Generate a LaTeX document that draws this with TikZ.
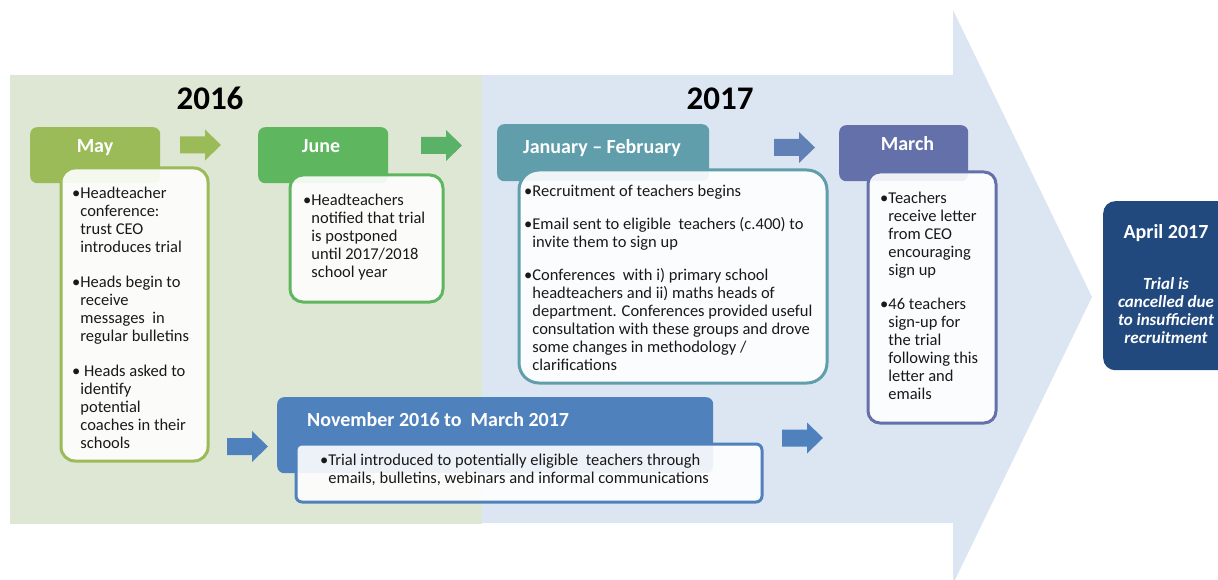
\documentclass[tikz,border=0pt]{standalone}
\usepackage{fontspec}
\setmainfont{Carlito}
\definecolor{bgblue}{RGB}{220,230,242}
\definecolor{bggreen}{RGB}{222,231,211}
\definecolor{cmay}{RGB}{155,187,89}
\definecolor{cjune}{RGB}{94,182,94}
\definecolor{carr2}{RGB}{90,178,104}
\definecolor{cjan}{RGB}{96,158,172}
\definecolor{carr3}{RGB}{96,128,182}
\definecolor{cmar}{RGB}{100,112,170}
\definecolor{cnov}{RGB}{79,129,189}
\definecolor{capr}{RGB}{33,73,125}
\definecolor{txtcol}{RGB}{25,25,25}
\newcommand{\hi}{\phantom{•}}
\tikzset{
 hdrbox/.style={rectangle, rounded corners=7pt, inner sep=0, anchor=north west},
 bodybox/.style={rectangle, draw, line width=3pt, fill=white, fill opacity=0.9, draw opacity=1, inner sep=0, anchor=north west},
 hdrtxt/.style={font=\fontsize{20}{24}\bfseries\selectfont, text=white, inner sep=0, anchor=base},
 yeartxt/.style={font=\fontsize{33}{40}\bfseries\selectfont, text=black, inner sep=0, anchor=base},
 btxt/.style={font=\fontsize{16.5}{18}\selectfont, align=left, inner sep=0, anchor=base west, text=txtcol},
 pics/blockarrow/.style={code={\fill[#1] (0,-8.5) -- (25,-8.5) -- (25,-15.5) -- (41,0) -- (25,15.5) -- (25,8.5) -- (0,8.5) -- cycle;}}
}
\begin{document}
\begin{tikzpicture}[x=1pt,y=-1pt]
\useasboundingbox (0,0) rectangle (1218,580);
\clip (0,0) rectangle (1218,580);
% background arrow
\fill[bgblue] (10,75) -- (953,75) -- (953,10) -- (1092,297) -- (953,584) -- (953,523) -- (10,523) -- cycle;
\fill[bggreen] (10,75) rectangle (482,524);
% years
\node[yeartxt] (y16) at (210,110) {2016};
\node[yeartxt] (y17) at (720,110) {2017};
% small arrows
\pic at (180,145) {blockarrow=cmay};
\pic at (421,145.5) {blockarrow=carr2};
\pic at (774,147.5) {blockarrow=carr3};
\pic at (227,446.5) {blockarrow=cnov};
\pic at (782,438) {blockarrow=cnov};
% May
\node[hdrbox, fill=cmay, minimum width=130pt, minimum height=56pt] (mayh) at (30,127) {};
\node[bodybox, draw=cmay, rounded corners=14pt, minimum width=147pt, minimum height=293pt] (mayb) at (59.5,166.5) {};
\node[hdrtxt] (mayt) at (95,153) {May};
\node[btxt] (mayx) at (72,448) {•Headteacher\\ \hi conference:\\ \hi trust CEO\\ \hi introduces trial\\[17pt]
•Heads begin to\\ \hi receive\\ \hi messages\ \ in\\ \hi regular bulletins\\[17pt]
• Heads asked to\\ \hi identify\\ \hi potential\\ \hi coaches in their\\ \hi schools};
% June
\node[hdrbox, fill=cjune, minimum width=130pt, minimum height=56pt] (juneh) at (258,127) {};
\node[bodybox, draw=cjune, rounded corners=13pt, minimum width=153pt, minimum height=127pt] (juneb) at (288.5,173.5) {};
\node[hdrtxt] (junet) at (321,153) {June};
\node[btxt] (junex) at (303,277) {•Headteachers\\ \hi notified that trial\\ \hi is postponed\\ \hi until 2017/2018\\ \hi school year};
% January - February
\node[hdrbox, fill=cjan, minimum width=212pt, minimum height=57pt] (janh) at (497,124) {};
\node[bodybox, draw=cjan, rounded corners=20pt, minimum width=308pt, minimum height=213pt] (janb) at (517.5,168.5) {};
\node[hdrtxt] (jant) at (602,154) {January -- February};
\node[btxt] (janx) at (524,370) {•Recruitment of teachers begins\\[15pt]
•Email sent to eligible\ \ teachers (c.400) to\\ \hi invite them to sign up\\[15pt]
•Conferences\ \ with i) primary school\\ \hi headteachers and ii) maths heads of\\ \hi department. Conferences provided useful\\ \hi consultation with these groups and drove\\ \hi some changes in methodology /\\ \hi clarifications};
% March
\node[hdrbox, fill=cmar, minimum width=129pt, minimum height=56pt] (marh) at (839,125) {};
\node[bodybox, draw=cmar, rounded corners=12pt, minimum width=128pt, minimum height=251pt] (marb) at (866.5,170.5) {};
\node[hdrtxt] (mart) at (907.5,151) {March};
\node[btxt] (marx) at (880,399) {•Teachers\\ \hi receive letter\\ \hi from CEO\\ \hi encouraging\\ \hi sign up\\[16pt]
•46 teachers\\ \hi sign-up for\\ \hi the trial\\ \hi following this\\ \hi letter and\\ \hi emails};
% November
\node[hdrbox, fill=cnov, minimum width=436pt, minimum height=76pt] (novh) at (277,397) {};
\node[bodybox, draw=cnov, rounded corners=6pt, minimum width=466pt, minimum height=58pt] (novb) at (294.5,442.5) {};
\node[hdrtxt, anchor=base west] (novt) at (307,426) {November 2016 to\ \ March 2017};
\node[btxt] (novx) at (320,483) {•Trial introduced to potentially eligible\ \ teachers through\\ \hi emails, bulletins, webinars and informal communications};
% April
\node[hdrbox, fill=capr, rounded corners=12pt, minimum width=140pt, minimum height=169pt] (apr) at (1103,201) {};
\node[hdrtxt] (aprt) at (1166,238) {April 2017};
\node[font=\fontsize{17}{18}\bfseries\itshape\selectfont, text=white, align=center, inner sep=0, anchor=base] (aprx) at (1166,343) {Trial is\\ cancelled due\\ to insufficient\\ recruitment};
\end{tikzpicture}
\end{document}
